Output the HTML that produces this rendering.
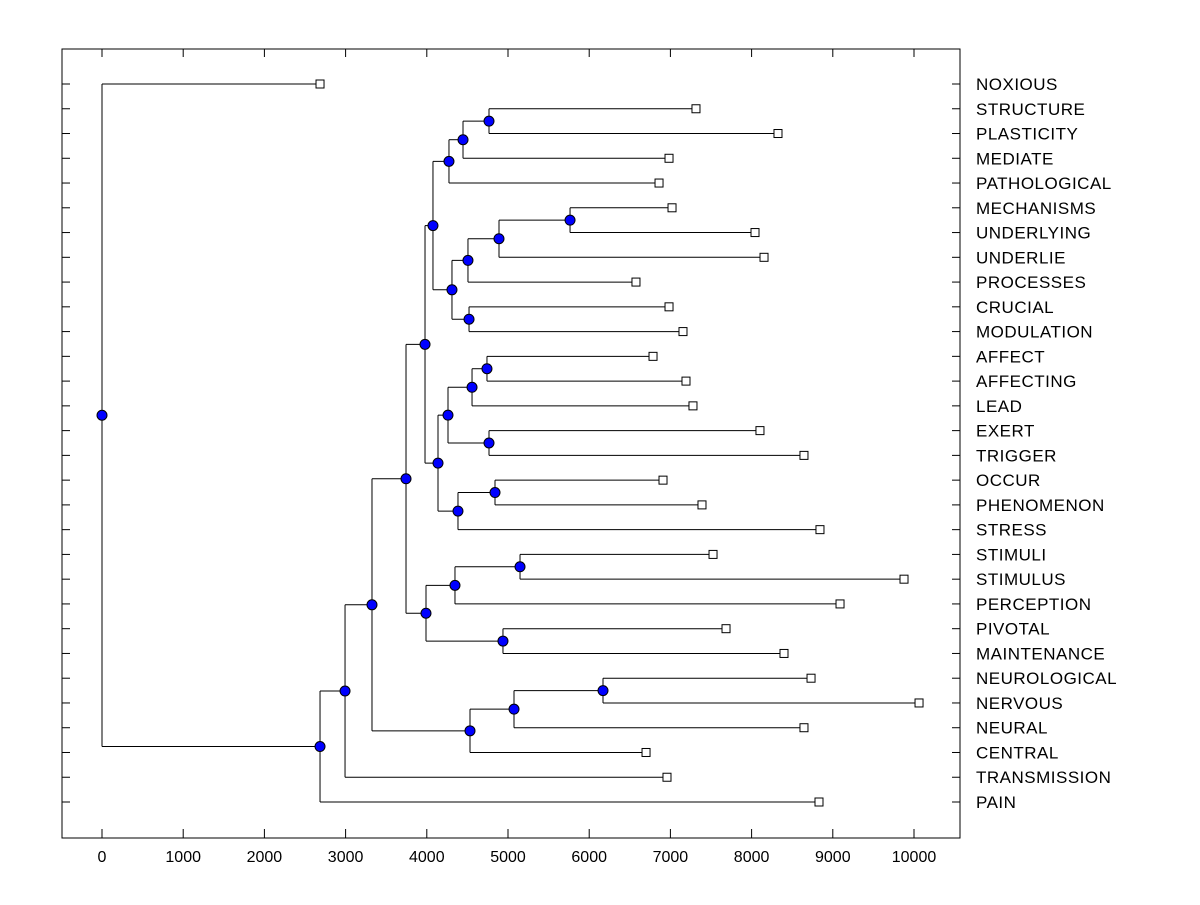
<!DOCTYPE html>
<html><head><meta charset="utf-8"><style>
body{margin:0;background:#fff;}
svg text{font-family:"Liberation Sans",Arial,sans-serif;}
</style></head><body>
<svg id="chart" width="1200" height="900" xmlns="http://www.w3.org/2000/svg"></svg>
<script>
const leafLabels=["NOXIOUS","STRUCTURE","PLASTICITY","MEDIATE","PATHOLOGICAL","MECHANISMS","UNDERLYING","UNDERLIE","PROCESSES","CRUCIAL","MODULATION","AFFECT","AFFECTING","LEAD","EXERT","TRIGGER","OCCUR","PHENOMENON","STRESS","STIMULI","STIMULUS","PERCEPTION","PIVOTAL","MAINTENANCE","NEUROLOGICAL","NERVOUS","NEURAL","CENTRAL","TRANSMISSION","PAIN"];
const leafValues=[2685,7315,8325,6983,6860,7020,8042,8153,6576,6983,7155,6786,7192,7278,8103,8645,6909,7389,8842,7525,9877,9089,7685,8399,8732,10062,8645,6700,6958,8830];
const mergeLeft=[1,30,31,5,33,34,9,35,32,11,39,14,40,16,43,42,38,19,47,22,48,46,24,52,53,51,55,56,0];
const mergeRight=[2,3,4,6,7,8,10,36,37,12,13,15,41,17,18,44,45,20,21,23,49,50,25,26,27,54,28,29,57];
const mergeHeight=[4766,4446,4273,5764,4889,4507,4520,4310,4076,4741,4557,4766,4261,4840,4384,4138,3978,5148,4347,4938,3990,3744,6170,5074,4532,3325,2993,2685,0];
const xTicks=[0,1000,2000,3000,4000,5000,6000,7000,8000,9000,10000];

const svg=document.getElementById('chart');
const NS='http://www.w3.org/2000/svg';
const L=62,R=960,T=49,B=838;
const xs=v=>102+v*0.0812;
const ys=i=>84+i*(802-84)/(leafLabels.length-1);
function mk(tag,attrs,name){const e=document.createElementNS(NS,tag);for(const k in attrs)e.setAttribute(k,attrs[k]);


svg.appendChild(e);return e;}
mk('rect',{x:L,y:T,width:R-L,height:B-T,fill:'none',stroke:'#000','stroke-width':1},'plot-frame');
xTicks.forEach(t=>{const x=xs(t);
mk('line',{x1:x,y1:B,x2:x,y2:B-9,stroke:'#000'},'x-tick');
mk('line',{x1:x,y1:T,x2:x,y2:T+8,stroke:'#000'},'x-tick-top');
const tx=mk('text',{x:x,y:B+24,'text-anchor':'middle','font-size':16,fill:'#000'},'x-tick-label');tx.textContent=t;});
leafLabels.forEach((lab,i)=>{const y=ys(i);
mk('line',{x1:L,y1:y,x2:L+8,y2:y,stroke:'#000'},'y-tick-left');
mk('line',{x1:R-8,y1:y,x2:R,y2:y,stroke:'#000'},'y-tick-right');
const tx=mk('text',{x:976,y:y+6,'font-size':17,'letter-spacing':0.5,fill:'#000'},'leaf-label');tx.textContent=lab;});
const nx=[],ny=[];
leafValues.forEach((v,i)=>{nx[i]=xs(v);ny[i]=ys(i);});
const n=leafLabels.length;
mergeHeight.forEach((h,k)=>{const id=n+k;const a=mergeLeft[k],b=mergeRight[k];const x=xs(h);
nx[id]=x;ny[id]=(ny[a]+ny[b])/2;
mk('line',{x1:x,y1:ny[a],x2:x,y2:ny[b],stroke:'#000'},'branch-vertical');
mk('line',{x1:x,y1:ny[a],x2:nx[a],y2:ny[a],stroke:'#000'},'branch-horizontal');
mk('line',{x1:x,y1:ny[b],x2:nx[b],y2:ny[b],stroke:'#000'},'branch-horizontal');});
leafValues.forEach((v,i)=>{mk('rect',{x:nx[i]-4,y:ny[i]-4,width:8,height:8,fill:'#fff',stroke:'#000'},'leaf-marker');});
mergeHeight.forEach((h,k)=>{const id=n+k;mk('circle',{cx:nx[id],cy:ny[id],r:5,fill:'#0000ff',stroke:'#000'},'merge-node');});
</script>
</body></html>
